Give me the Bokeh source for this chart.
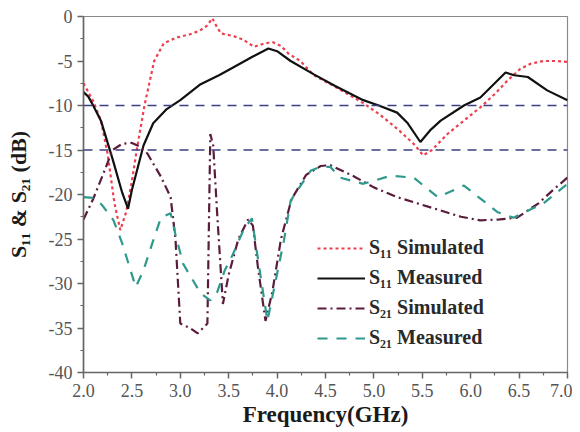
from bokeh.plotting import figure
from bokeh.models import Range1d, FixedTicker, PrintfTickFormatter, Span, Legend, LegendItem
from bokeh.embed import file_html
from bokeh.resources import INLINE

# ---- data ----
f_s11_sim = [2.0, 2.1, 2.18, 2.25, 2.32, 2.38, 2.44, 2.5, 2.55, 2.63, 2.68, 2.73, 2.83, 2.95,
             3.1, 3.2, 3.28, 3.33, 3.38, 3.42, 3.55, 3.65, 3.76, 3.88, 3.96, 4.04, 4.12, 4.24,
             4.38, 4.55, 4.73, 4.9, 5.07, 5.25, 5.41, 5.51, 5.6, 5.76, 5.93, 6.1, 6.25, 6.38,
             6.51, 6.62, 6.75, 6.88, 7.0]
s11_sim = [-7.5, -9.5, -11.7, -15.5, -21.0, -24.0, -22.0, -18.5, -15.0, -10.0, -7.5, -5.0, -3.0, -2.4,
           -2.0, -1.6, -1.0, -0.2, -1.2, -1.9, -2.2, -2.6, -3.4, -3.0, -2.9, -3.3, -4.2, -5.0,
           -6.6, -7.6, -8.7, -9.8, -11.1, -12.7, -14.3, -15.6, -15.0, -13.2, -11.7, -10.2, -8.7, -7.2,
           -5.9, -5.3, -5.0, -5.0, -5.1]

f_s11_meas = [2.0, 2.05, 2.1, 2.18, 2.3, 2.4, 2.46, 2.5, 2.56, 2.62, 2.72, 2.86, 3.0, 3.21, 3.4,
              3.55, 3.75, 3.91, 4.0, 4.14, 4.38, 4.6, 4.89, 5.05, 5.24, 5.35, 5.48, 5.58, 5.69,
              5.93, 6.1, 6.36, 6.45, 6.59, 6.79, 7.0]
s11_meas = [-8.5, -9.0, -10.0, -11.7, -16.0, -19.8, -21.6, -19.5, -17.0, -14.5, -12.0, -10.4, -9.4, -7.6, -6.6,
            -5.7, -4.5, -3.6, -3.9, -5.0, -6.5, -7.8, -9.4, -10.0, -10.8, -12.0, -14.1, -12.8, -11.7,
            -10.0, -9.1, -6.3, -6.6, -6.8, -8.3, -9.4]

f_s21_sim = [2.0, 2.1, 2.2, 2.3, 2.4, 2.5, 2.58, 2.66, 2.8, 2.9, 2.95, 3.0, 3.1, 3.18, 3.28, 3.31,
             3.34, 3.38, 3.44, 3.5, 3.6, 3.7, 3.75, 3.8, 3.88, 3.95, 4.04, 4.15, 4.3, 4.45, 4.55,
             4.8, 5.0, 5.24, 5.45, 5.69, 5.9, 6.1, 6.3, 6.48, 6.7, 6.85, 7.0]
s21_sim = [-22.8, -20.5, -17.8, -15.0, -14.3, -14.2, -14.6, -15.4, -18.0, -20.3, -25.0, -34.5, -35.0, -35.6, -34.5, -13.2,
           -14.5, -22.0, -32.3, -29.0, -25.0, -22.8, -23.5, -28.0, -34.2, -31.0, -25.0, -20.5, -17.8, -16.8, -16.7,
           -18.0, -19.2, -20.3, -21.0, -21.8, -22.5, -22.9, -22.8, -22.6, -21.0, -19.5, -18.1]

f_s21_meas = [2.0, 2.12, 2.2, 2.31, 2.4, 2.54, 2.62, 2.71, 2.8, 2.9, 2.95, 3.03, 3.21, 3.31, 3.38,
              3.46, 3.54, 3.66, 3.74, 3.81, 3.9, 4.0, 4.07, 4.14, 4.28, 4.35, 4.45, 4.55, 4.65,
              4.89, 5.17, 5.41, 5.66, 5.93, 6.28, 6.44, 6.75, 7.0]
s21_meas = [-20.3, -20.4, -21.3, -22.9, -25.5, -30.4, -28.5, -25.5, -22.6, -22.1, -24.5, -27.8, -31.1, -31.9, -31.0,
            -28.5, -26.8, -23.8, -22.7, -27.8, -34.2, -28.9, -25.2, -20.7, -18.4, -17.3, -16.9, -16.9, -18.1,
            -18.8, -17.9, -18.1, -20.3, -19.0, -22.0, -22.6, -21.0, -18.8]

ref_levels = [-10, -15]
x_ticks = [2.0, 2.5, 3.0, 3.5, 4.0, 4.5, 5.0, 5.5, 6.0, 6.5, 7.0]
x_minor = [2.25, 2.75, 3.25, 3.75, 4.25, 4.75, 5.25, 5.75, 6.25, 6.75]
y_ticks = [0, -5, -10, -15, -20, -25, -30, -35, -40]
y_minor = [-2.5, -7.5, -12.5, -17.5, -22.5, -27.5, -32.5, -37.5]

labels = ["S\u2081\u2081 Simulated", "S\u2081\u2081 Measured", "S\u2082\u2081 Simulated", "S\u2082\u2081 Measured"]

SERIF = "Liberation Serif"

p = figure(width=572, height=430, output_backend="svg", toolbar_location=None,
           x_range=Range1d(2.0, 7.0), y_range=Range1d(-40, 0),
           min_border_left=83, min_border_right=5, min_border_top=16, min_border_bottom=58)

p.background_fill_color = "white"
p.border_fill_color = "white"
p.outline_line_color = "#8a8a8a"
p.outline_line_width = 1.2
p.xgrid.visible = False
p.ygrid.visible = False

p.xaxis.ticker = FixedTicker(ticks=x_ticks, minor_ticks=x_minor)
p.yaxis.ticker = FixedTicker(ticks=y_ticks, minor_ticks=y_minor)
p.xaxis.formatter = PrintfTickFormatter(format="%.1f")
p.yaxis.formatter = PrintfTickFormatter(format="%d")

for ax in (p.xaxis[0], p.yaxis[0]):
    ax.axis_line_color = "#666666"
    ax.axis_line_width = 1.6
    ax.major_tick_line_color = "#666666"
    ax.minor_tick_line_color = "#666666"
    ax.major_tick_line_width = 1.5
    ax.minor_tick_line_width = 1.2
    ax.major_tick_out = 6
    ax.major_tick_in = 0
    ax.minor_tick_out = 3
    ax.minor_tick_in = 0
    ax.major_label_text_font = SERIF
    ax.major_label_text_font_size = "18px"
    ax.major_label_text_color = "#555555"
    ax.axis_label_text_font = SERIF
    ax.axis_label_text_font_style = "bold"
    ax.axis_label_text_color = "#1a1a1a"

p.xaxis.axis_label = "Frequency(GHz)"
p.xaxis.axis_label_text_font_size = "23px"
p.xaxis.major_label_standoff = 5
p.xaxis.axis_label_standoff = 2
p.yaxis.axis_label = "S\u2081\u2081 & S\u2082\u2081 (dB)"
p.yaxis.axis_label_text_font_size = "22px"
p.yaxis.major_label_standoff = 5
p.yaxis.axis_label_standoff = 15

for lv in ref_levels:
    p.add_layout(Span(location=lv, dimension="width", line_color="#3c3f80",
                      line_width=1.6, line_dash="9 7"))

r1 = p.line(f_s11_sim, s11_sim, line_color="#ee3f4f", line_width=2.2, line_dash="3 3")
r2 = p.line(f_s11_meas, s11_meas, line_color="#111111", line_width=2.2)
r3 = p.line(f_s21_sim, s21_sim, line_color="#5a1c3c", line_width=2.2, line_dash="9 4 2 4")
r4 = p.line(f_s21_meas, s21_meas, line_color="#2f9a8c", line_width=2.2, line_dash="10 9")

legend = Legend(items=[LegendItem(label=labels[0], renderers=[r1]),
                       LegendItem(label=labels[1], renderers=[r2]),
                       LegendItem(label=labels[2], renderers=[r3]),
                       LegendItem(label=labels[3], renderers=[r4])],
                location=(234, 23), border_line_color=None, background_fill_alpha=0,
                padding=0, margin=0, spacing=7, label_height=20, glyph_height=20,
                glyph_width=48, label_standoff=4,
                label_text_font=SERIF, label_text_font_style="bold",
                label_text_font_size="20px", label_text_color="#2a2a2a")
p.add_layout(legend, "center")

open("out.html", "w").write(file_html(p, INLINE))
